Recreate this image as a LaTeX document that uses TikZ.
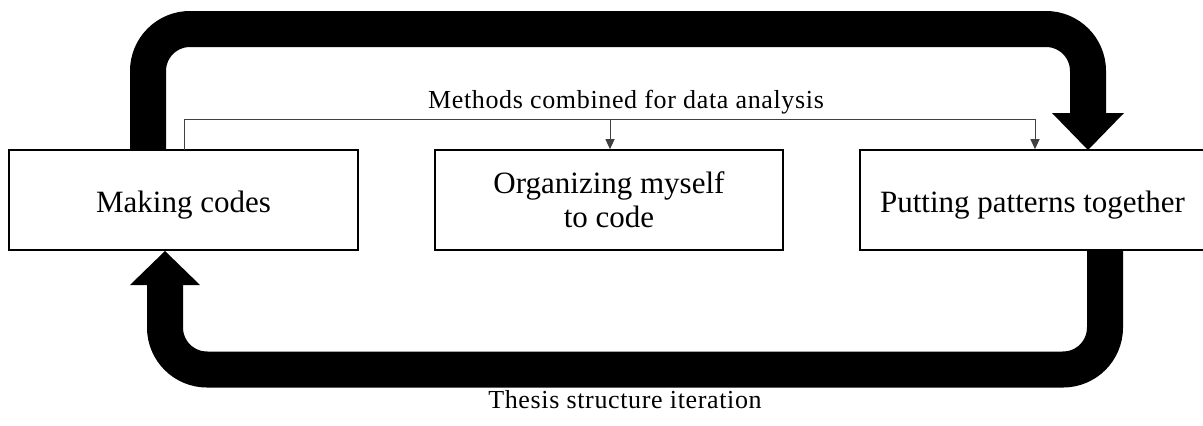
\documentclass[tikz,border=0pt]{standalone}
\usepackage{fontspec}
\setmainfont{Liberation Serif}
\usetikzlibrary{arrows.meta}
\begin{document}
\begin{tikzpicture}[x=1pt,y=-1pt,
  box/.style={draw, line width=1.6pt, fill=white, minimum width=#1, minimum height=100pt,
    inner sep=0pt, font=\fontsize{31}{34}\selectfont, align=center},
  oneline/.style={text height=30pt, text depth=6pt},
  loopband/.style={line width=36pt, rounded corners=42pt},
  thin/.style={draw=black!75, line width=1pt},
  tip/.style={-{Triangle[width=9pt,length=10pt]}},
  lab/.style={font=\fontsize{26}{30}\selectfont\addfontfeature{LetterSpace=2.5}, anchor=base, inner sep=0pt}]
\useasboundingbox (0,0) rectangle (1203,426);
\clip (0,0) rectangle (1203,426);

% boxes
\node[box=349pt, oneline] (make) at (183.5,200) {Making codes};
\node[box=348pt] (org) at (609,200) {Organizing myself\\to code};
\node[box=345pt, oneline] (put) at (1032.5,200) {Putting patterns together};

% big loop, top
\coordinate (t0) at (148,150);
\coordinate (t1) at (148,29);
\coordinate (t2) at (1088,29);
\coordinate (t3) at (1088,114);
\draw[loopband] (t0) -- (t1) -- (t2) -- (t3);
\fill (1052,113) -- (1124,113) -- (1088,150) -- cycle;

% big loop, bottom
\coordinate (b0) at (1105,250);
\coordinate (b1) at (1105,369.5);
\coordinate (b2) at (165,369.5);
\coordinate (b3) at (165,284);
\draw[loopband] (b0) -- (b1) -- (b2) -- (b3);
\fill (130,285) -- (200,285) -- (165,251) -- cycle;

% thin connector
\coordinate (c0) at (184,150);
\coordinate (c1) at (184,119);
\coordinate (c2) at (610,119);
\coordinate (c3) at (1035,119);
\draw[thin] (c0) -- (c1) -- (c3);
\draw[thin, tip] (c2) -- (c2 |- org.north);
\draw[thin, tip] (c3) -- (c3 |- put.north);

% labels
\node[lab] (meth) at (626,108) {Methods combined for data analysis};
\node[lab] (thes) at (625,408) {Thesis structure iteration};
\end{tikzpicture}
\end{document}
